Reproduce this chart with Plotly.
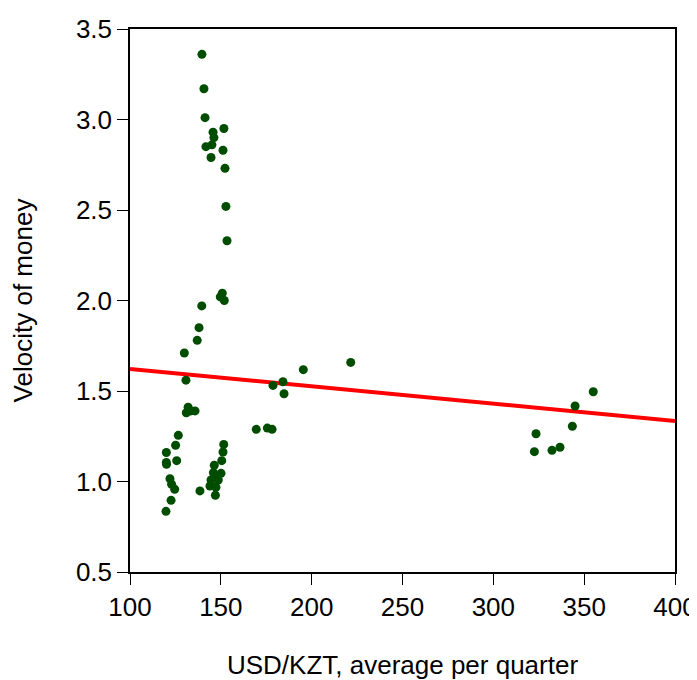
import plotly.graph_objects as go

# USD/KZT average per quarter
usd_kzt = [139.6, 140.7, 141.3, 151.7, 145.7, 146.2, 141.8, 145.1, 151.2, 144.6, 152.3, 152.8, 153.4,
           149.7, 150.8, 151.9, 139.5, 138.0, 137.0, 129.9, 130.8,
           131.0, 132.0, 133.5, 135.8,
           126.6, 125.1, 120.0, 125.7, 120.0, 120.1, 122.0, 122.9, 124.6, 122.6, 119.8,
           151.6, 151.2, 150.5, 146.4, 145.9, 150.1, 147.7, 148.6, 144.6, 144.0, 147.3, 147.0, 138.5,
           169.5, 175.6, 178.2, 178.7, 184.2, 184.8, 195.4, 221.5,
           355.0, 345.0, 343.5, 323.5, 322.6, 332.3, 336.7]
# Velocity of money
velocity = [3.36, 3.17, 3.01, 2.95, 2.93, 2.90, 2.85, 2.86, 2.83, 2.79, 2.73, 2.52, 2.33,
            2.02, 2.04, 2.00, 1.97, 1.85, 1.78, 1.71, 1.56,
            1.38, 1.41, 1.39, 1.39,
            1.255, 1.20, 1.16, 1.115, 1.105, 1.095, 1.015, 0.985, 0.957, 0.896, 0.835,
            1.205, 1.163, 1.115, 1.09, 1.049, 1.045, 1.027, 1.008, 1.008, 0.975, 0.968, 0.924, 0.948,
            1.288, 1.295, 1.288, 1.531, 1.551, 1.485, 1.618, 1.658,
            1.496, 1.417, 1.305, 1.264, 1.165, 1.172, 1.189]

# Fitted line endpoints
fit_x = [100, 400]
fit_y = [1.622, 1.334]

x_ticks = [100, 150, 200, 250, 300, 350, 400]
y_ticks = [0.5, 1.0, 1.5, 2.0, 2.5, 3.0, 3.5]

fig = go.Figure()
fig.add_trace(go.Scatter(x=fit_x, y=fit_y, mode="lines",
                         line=dict(color="#ff0000", width=4), hoverinfo="skip"))
fig.add_trace(go.Scatter(x=usd_kzt, y=velocity, mode="markers",
                         marker=dict(color="#004d00", size=9, line=dict(width=0))))

font = dict(family="Liberation Sans, Arial, sans-serif", size=26, color="#000000")

# page body adds an 8px offset, so the figure is sized 8px smaller
fig.update_layout(
    width=689, height=672,
    margin=dict(l=122, r=22, t=21, b=108),
    paper_bgcolor="white", plot_bgcolor="white",
    showlegend=False,
    font=font,
)
fig.update_xaxes(range=[100, 400], tickvals=x_ticks, ticks="outside", ticklen=11,
                 tickcolor="#000000", tickwidth=1, automargin=False,
                 showline=True, linecolor="#000000", linewidth=1.5, mirror=True,
                 showgrid=False, zeroline=False,
                 title=dict(text="USD/KZT, average per quarter", standoff=39, font=font))
fig.update_yaxes(range=[0.5, 3.5], tickvals=y_ticks, tickformat=".1f", ticks="outside", ticklen=11,
                 tickcolor="#000000", tickwidth=1, automargin=False,
                 showline=True, linecolor="#000000", linewidth=1.5, mirror=True,
                 showgrid=False, zeroline=False,
                 title=dict(text="Velocity of money", standoff=36, font=font))

fig.write_html("out.html")
